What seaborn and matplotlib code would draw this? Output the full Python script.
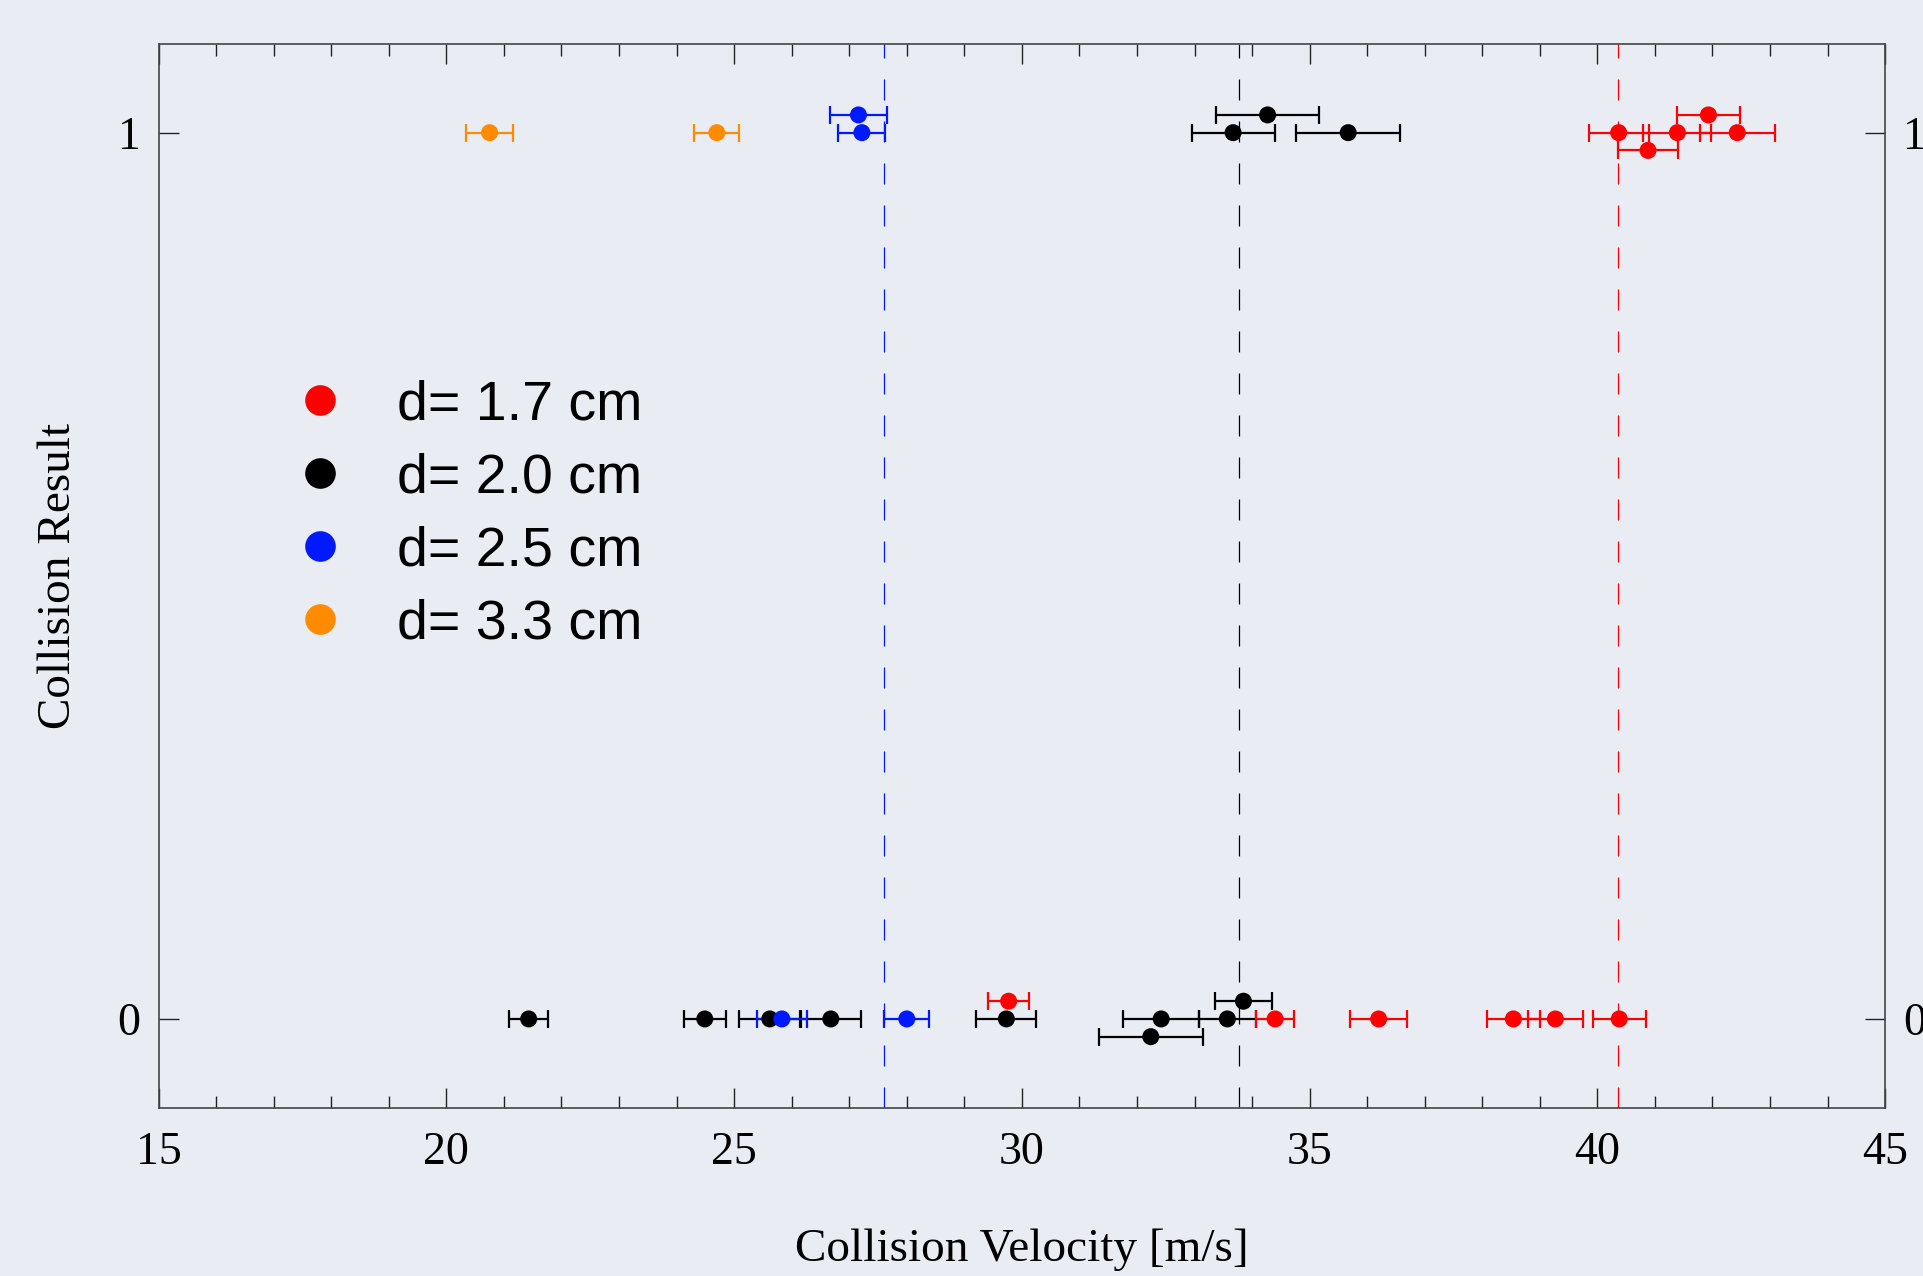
import pandas as pd
import seaborn as sns
import matplotlib.pyplot as plt

# d = 1.7 cm
red_v = [40.37, 41.39, 42.43, 41.93, 40.88, 29.77, 34.40, 36.20, 38.54, 39.27, 40.38]
red_err = [0.52, 0.59, 0.65, 0.55, 0.52, 0.36, 0.33, 0.50, 0.46, 0.48, 0.46]
red_res = [1, 1, 1, 1, 1, 0, 0, 0, 0, 0, 0]
red_row = [0, 0, 0, 1, -1, 1, 0, 0, 0, 0, 0]

# d = 2.0 cm
black_v = [34.27, 33.67, 35.67, 21.43, 24.49, 25.62, 26.68, 29.73, 33.85, 32.42, 33.57, 32.24]
black_err = [0.90, 0.72, 0.90, 0.34, 0.36, 0.54, 0.53, 0.52, 0.50, 0.66, 0.50, 0.90]
black_res = [1, 1, 1, 0, 0, 0, 0, 0, 0, 0, 0, 0]
black_row = [1, 0, 0, 0, 0, 0, 0, 0, 1, 0, 0, -1]

# d = 2.5 cm
blue_v = [27.16, 27.22, 25.83, 28.00]
blue_err = [0.50, 0.41, 0.43, 0.39]
blue_res = [1, 1, 0, 0]
blue_row = [1, 0, 0, 0]

# d = 3.3 cm
orange_v = [20.75, 24.70]
orange_err = [0.41, 0.39]
orange_res = [1, 1]
orange_row = [0, 0]

labels = ['d= 1.7 cm', 'd= 2.0 cm', 'd= 2.5 cm', 'd= 3.3 cm']
colors = ['#FF0000', '#000000', '#0019FF', '#FF8C00']
thresholds = [40.36, 33.77, 27.61, None]

frames = []
for lab, v, e, r, row in zip(labels,
                             [red_v, black_v, blue_v, orange_v],
                             [red_err, black_err, blue_err, orange_err],
                             [red_res, black_res, blue_res, orange_res],
                             [red_row, black_row, blue_row, orange_row]):
    frames.append(pd.DataFrame({'velocity': v, 'err': e, 'result': r, 'row': row, 'd': lab}))
df = pd.concat(frames, ignore_index=True)
# small vertical shift to separate overlapping points
df['y'] = df['result'] + 0.02 * df['row']

bg = '#E9ECF3'
sns.set_theme(style='ticks')
plt.rcParams['font.family'] = ['Liberation Serif', 'DejaVu Serif']
plt.rcParams['text.color'] = 'black'
plt.rcParams['axes.labelcolor'] = 'black'
plt.rcParams['xtick.labelcolor'] = 'black'
plt.rcParams['ytick.labelcolor'] = 'black'

fig = plt.figure(figsize=(19.23, 12.76), dpi=100, facecolor=bg)
ax = fig.add_axes([0.0825, 0.132, 0.8978, 0.8335])
ax.set_facecolor(bg)

palette = dict(zip(labels, colors))
draw_order = [labels[1], labels[0], labels[2], labels[3]]
for lab in draw_order:
    sub = df[df['d'] == lab]
    ax.errorbar(sub['velocity'], sub['y'], xerr=sub['err'], fmt='none',
                ecolor=palette[lab], elinewidth=1.6, capsize=6.5, capthick=1.6, zorder=2)

for lab, t in zip(labels, thresholds):
    if t is not None:
        ax.axvline(t, color=palette[lab], lw=0.9, linestyle=(0, (16.8, 16.8)), zorder=1)

sns.scatterplot(data=df, x='velocity', y='y', hue='d', hue_order=labels,
                palette=palette, s=150, linewidth=0, ax=ax, zorder=3)

leg = ax.get_legend()
handles = leg.legend_handles
ax.legend(handles, labels, loc='upper left', bbox_to_anchor=(0.0773, 0.685),
          frameon=False, borderpad=0, borderaxespad=0, handlelength=1.0,
          handletextpad=0.89, labelspacing=0.38, markerscale=1.8,
          labelcolor='black', prop={'family': 'Liberation Sans', 'size': 40})

ax.set_xlim(15, 45)
ax.set_ylim(-0.1, 1.1)
ax.set_xticks([15, 20, 25, 30, 35, 40, 45])
ax.set_xticks(range(15, 46), minor=True)
ax.set_yticks([0, 1])
ax.tick_params(axis='both', which='both', direction='in', top=True, right=True,
               color='#222222', width=1.0)
ax.tick_params(axis='x', which='major', length=14.4, labelsize=33, pad=17.5)
ax.tick_params(axis='x', which='minor', length=8.6)
ax.tick_params(axis='y', which='major', length=14.4, labelsize=33, pad=13,
               labelright=True)

for sp in ax.spines.values():
    sp.set_color('#444444')
    sp.set_linewidth(1.2)

ax.set_xlabel('Collision Velocity [m/s]', fontsize=34)
ax.set_ylabel('Collision Result', fontsize=34)
ax.xaxis.set_label_coords(0.5, -0.114)
ax.yaxis.set_label_coords(-0.0455, 0.5)

fig.savefig('out.png', dpi=100, facecolor=bg)
